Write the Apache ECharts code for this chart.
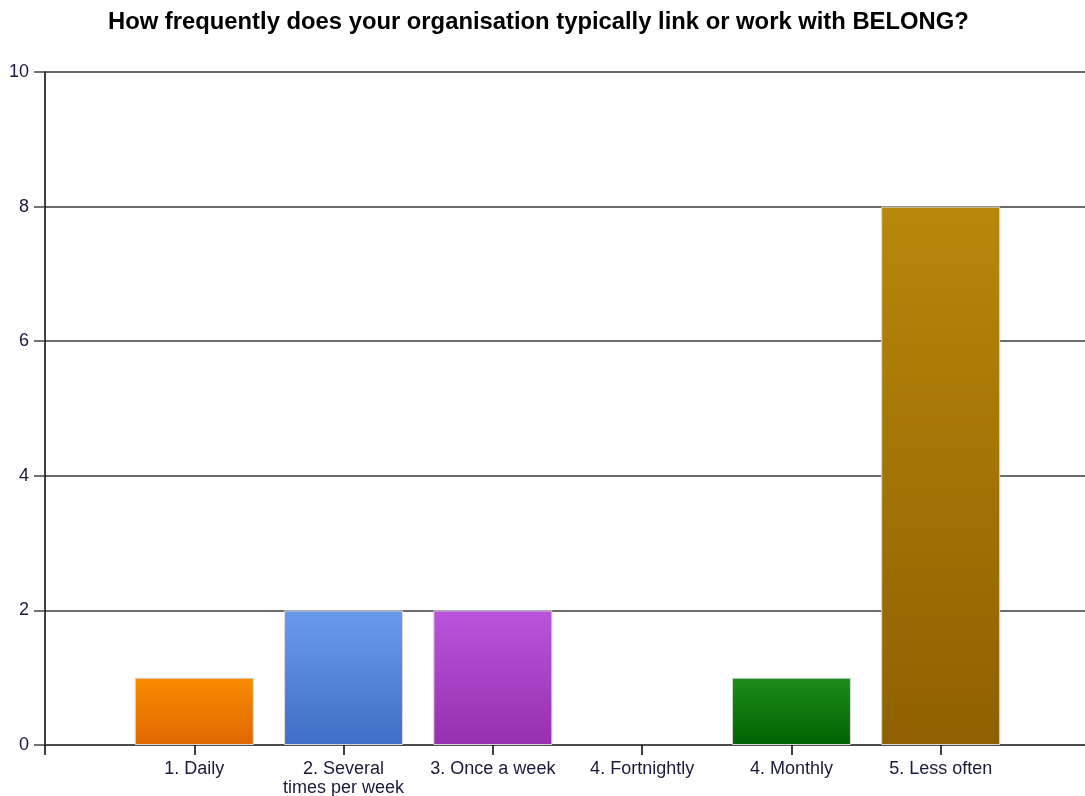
<!DOCTYPE html>
<html><head><meta charset="utf-8">
<script src="https://cdn.jsdelivr.net/npm/echarts@6/dist/echarts.min.js"></script>
<style>html,body{margin:0;padding:0;background:#fff}#c{width:1085px;height:796px}</style>
</head><body><div id="c"></div>
<script>
const titleText = 'How frequently does your organisation typically link or work with BELONG?';
const categories = ['', '1. Daily', '2. Several\ntimes per week', '3. Once a week', '4. Fortnightly', '4. Monthly', '5. Less often', ''];
const values = [null, 1, 2, 2, 0, 1, 8, null];
const yTicks = { min: 0, max: 10, interval: 2 };

const barColors = [
  null,
  ['#f98c00', '#e06800'],
  ['#6a9bea', '#3f6fc6'],
  ['#ba55dc', '#9630ae'],
  ['#888888', '#666666'],
  ['#1c8c1c', '#006400'],
  ['#b8870b', '#8f6000']
];

const chart = echarts.init(document.getElementById('c'));
chart.setOption({
  animation: false,
  title: {
    text: titleText, left: 103, top: 5,
    textStyle: { fontFamily: 'Liberation Sans', fontWeight: 'bold', fontSize: 23.8, color: '#000' }
  },
  grid: { left: 45, width: 1045, top: 72, bottom: 51, containLabel: false, outerBoundsMode: 'none' },
  xAxis: {
    type: 'category', data: categories, boundaryGap: false,
    axisLine: { show: true, lineStyle: { color: '#444', width: 1.5 } },
    axisTick: { show: true, length: 10, lineStyle: { color: '#000', width: 1.5 } },
    axisLabel: { interval: 0, margin: 15, fontFamily: 'Liberation Sans', fontSize: 18, color: '#1a1a3a', lineHeight: 19 }
  },
  yAxis: {
    type: 'value', min: yTicks.min, max: yTicks.max, interval: yTicks.interval,
    axisLine: { show: true, lineStyle: { color: '#000', width: 1.5 } },
    axisTick: { show: true, length: 11, lineStyle: { color: '#444', width: 1.5 } },
    splitLine: { show: true, lineStyle: { color: '#3a3a3a', width: 1.5 } },
    axisLabel: { margin: 16, fontFamily: 'Liberation Sans', fontSize: 18, color: '#1a1a3a' }
  },
  series: [{
    type: 'bar', barWidth: 119,
    data: values.map((v, i) => ({
      value: v,
      itemStyle: barColors[i] ? {
        color: new echarts.graphic.LinearGradient(0, 0, 0, 1, [
          { offset: 0, color: barColors[i][0] }, { offset: 1, color: barColors[i][1] }
        ]),
        borderColor: '#d8d8d8', borderWidth: v > 0 ? 1 : 0
      } : {}
    }))
  }]
});
</script></body></html>
